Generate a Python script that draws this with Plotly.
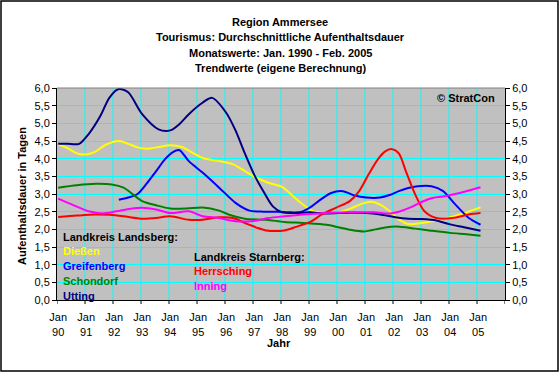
import plotly.graph_objects as go

# ---------------- data (month index: 0 = Jan 1990) ----------------
utting_m = [0, 4, 9, 13, 18, 22, 26, 30, 36, 43, 48, 52, 56, 62, 66, 72, 76, 80, 84, 88, 92, 96,
            102, 108, 114, 120, 126, 132, 138, 144, 150, 156, 162, 168, 174, 181]
utting_v = [4.42, 4.42, 4.42, 4.69, 5.20, 5.73, 5.97, 5.88, 5.26, 4.83, 4.80, 4.98, 5.26, 5.59,
            5.72, 5.30, 4.80, 4.15, 3.55, 3.07, 2.65, 2.48, 2.46, 2.48, 2.45, 2.46, 2.47, 2.46,
            2.42, 2.35, 2.30, 2.29, 2.25, 2.14, 2.06, 1.96]

diessen_m = [0, 4, 8, 12, 16, 20, 26, 30, 34, 38, 43, 48, 53, 58, 62, 69, 75, 80, 85, 90, 96,
             100, 104, 109, 115, 120, 125, 130, 134, 138, 142, 146, 150, 156, 162, 168, 174, 181]
diessen_v = [4.40, 4.30, 4.15, 4.12, 4.20, 4.38, 4.50, 4.42, 4.32, 4.28, 4.33, 4.38, 4.33, 4.15,
             4.02, 3.93, 3.84, 3.65, 3.46, 3.32, 3.20, 2.98, 2.75, 2.52, 2.46, 2.48, 2.58, 2.72,
             2.78, 2.70, 2.52, 2.28, 2.15, 2.18, 2.25, 2.34, 2.46, 2.62]

greifenberg_m = [26, 30, 34, 38, 42, 46, 49, 52, 56, 62, 69, 76, 82, 88, 94, 100, 104, 108, 112,
                 117, 122, 127, 132, 138, 142, 146, 150, 154, 160, 165, 170, 176, 181]
greifenberg_v = [2.84, 2.90, 3.00, 3.30, 3.65, 4.00, 4.18, 4.24, 3.93, 3.60, 3.18, 2.75, 2.53,
                 2.50, 2.50, 2.48, 2.49, 2.62, 2.82, 3.03, 3.08, 2.96, 2.90, 2.90, 2.97, 3.08,
                 3.17, 3.22, 3.22, 3.08, 2.72, 2.32, 2.13]

schondorf_m = [0, 8, 16, 23, 28, 32, 36, 42, 48, 55, 62, 69, 73, 80, 89, 97, 105, 115, 120, 125,
               131, 139, 145, 153, 159, 168, 175, 181]
schondorf_v = [3.18, 3.25, 3.29, 3.27, 3.18, 2.99, 2.80, 2.68, 2.59, 2.59, 2.62, 2.53, 2.42,
               2.30, 2.27, 2.21, 2.18, 2.13, 2.06, 1.99, 1.94, 2.04, 2.08, 2.02, 1.97, 1.90,
               1.86, 1.82]

herrsching_m = [0, 8, 16, 22, 28, 36, 42, 48, 56, 62, 69, 75, 80, 85, 89, 97, 102, 108, 113, 119,
                125, 129, 133, 137, 140, 143, 146, 149, 153, 157, 162, 169, 176, 181]
herrsching_v = [2.35, 2.39, 2.42, 2.41, 2.37, 2.30, 2.32, 2.37, 2.27, 2.27, 2.34, 2.32, 2.18,
                2.05, 1.97, 1.97, 2.07, 2.21, 2.42, 2.61, 2.80, 3.08, 3.55, 3.98, 4.20, 4.27,
                4.15, 3.65, 2.99, 2.51, 2.32, 2.32, 2.42, 2.46]

inning_m = [0, 6, 13, 19, 25, 31, 36, 42, 48, 56, 62, 69, 76, 83, 90, 97, 105, 115, 125, 135,
            142, 146, 151, 156, 160, 165, 170, 176, 181]
inning_v = [2.87, 2.70, 2.51, 2.45, 2.51, 2.58, 2.61, 2.56, 2.46, 2.51, 2.37, 2.32, 2.23, 2.23,
            2.32, 2.37, 2.42, 2.46, 2.48, 2.48, 2.45, 2.50, 2.62, 2.78, 2.88, 2.93, 3.00, 3.10,
            3.19]

year_labels = ["90", "91", "92", "93", "94", "95", "96", "97", "98", "99",
               "00", "01", "02", "03", "04", "05"]
y_ticks = [0, 0.5, 1, 1.5, 2, 2.5, 3, 3.5, 4, 4.5, 5, 5.5, 6]

title_lines = ["Region Ammersee",
               "Tourismus: Durchschnittliche Aufenthaltsdauer",
               "Monatswerte: Jan. 1990 - Feb. 2005",
               "Trendwerte (eigene Berechnung)"]

# ---------------- figure ----------------
W, H = 560, 374
L, R, T, B = 57, 55, 88, 74
PW, PH = W - L - R, H - T - B

def px(x):
    return (x - L) / PW

def py(y):
    return (H - B - y) / PH

FONT = "Arial, Liberation Sans, sans-serif"

fig = go.Figure()
series = [
    ("Dießen", diessen_m, diessen_v, "#FFFF00"),
    ("Greifenberg", greifenberg_m, greifenberg_v, "#0000FF"),
    ("Schondorf", schondorf_m, schondorf_v, "#008000"),
    ("Utting", utting_m, utting_v, "#000080"),
    ("Herrsching", herrsching_m, herrsching_v, "#FF0000"),
    ("Inning", inning_m, inning_v, "#FF00FF"),
]
for name, xm, yv, col in series:
    fig.add_trace(go.Scatter(x=xm, y=yv, name=name, mode="lines",
                             line=dict(color=col, width=2, shape="spline", smoothing=0.8),
                             hoverinfo="skip"))

# invisible helper trace so the right axis renders
fig.add_trace(go.Scatter(x=[0], y=[0], xaxis="x", yaxis="y2", mode="markers",
                         marker=dict(opacity=0), hoverinfo="skip", showlegend=False))

year_pos = [12 * i for i in range(len(year_labels))]
bounds = [12 * i - 0.5 for i in range(17)]
xr = [-0.5, 191.5]

fig.update_layout(
    width=W, height=H,
    margin=dict(l=L, r=R, t=T, b=B, autoexpand=False),
    paper_bgcolor="white",
    plot_bgcolor="#C0C0C0",
    showlegend=False,
    separators=",.",
    font=dict(family=FONT, size=11, color="black"),
    xaxis=dict(range=xr, tickmode="array", tickvals=year_pos,
               ticktext=["Jan<br>%s" % y for y in year_labels],
               ticks="", showgrid=False, ticklabelstandoff=7,
               showline=True, linecolor="black", linewidth=1, zeroline=False),
    yaxis=dict(range=[0, 6], tickmode="array", tickvals=y_ticks, tickformat=".1f",
               ticks="outside", ticklen=4, tickcolor="black",
               showgrid=True, gridcolor="#00FFFF", gridwidth=1,
               showline=True, linecolor="black", linewidth=1, zeroline=False),
    yaxis2=dict(range=[0, 6], overlaying="y", side="right", tickmode="array",
                tickvals=y_ticks, tickformat=".1f", anchor="x",
                ticks="outside", ticklen=4, tickcolor="black",
                showgrid=False, showline=True, linecolor="black", linewidth=1,
                zeroline=False),
)

# vertical year-boundary gridlines and bottom tick marks
for b in bounds[1:-1]:
    fig.add_shape(type="line", xref="x", yref="paper", x0=b, x1=b, y0=0, y1=1,
                  line=dict(color="#00FFFF", width=1), layer="below")
for b in bounds:
    fig.add_shape(type="line", xref="x", yref="paper", x0=b, x1=b, y0=0, y1=-4 / PH,
                  line=dict(color="black", width=1), layer="above")

ann = []
for i, t in enumerate(title_lines):
    ann.append(dict(text="<b>%s</b>" % t, x=px(280), y=py(22 + i * 15.4), xref="paper",
                    yref="paper", showarrow=False, xanchor="center", yanchor="middle",
                    font=dict(size=11)))
ann.append(dict(text="<b>Aufenthaltsdauer in Tagen</b>", x=px(22), y=py(196), xref="paper",
                yref="paper", showarrow=False, textangle=-90, xanchor="center",
                yanchor="middle", font=dict(size=11)))
ann.append(dict(text="<b>Jahr</b>", x=px(279), y=py(343), xref="paper", yref="paper",
                showarrow=False, xanchor="center", yanchor="middle", font=dict(size=11)))
ann.append(dict(text="<b>© StratCon</b>", x=px(497), y=py(98), xref="paper", yref="paper",
                showarrow=False, xanchor="right", yanchor="middle", font=dict(size=11)))
labels = [
    ("Landkreis Landsberg:", "black", 61, 236.5),
    ("Dießen", "#FFFF00", 61, 251),
    ("Greifenberg", "#0000FF", 61, 266),
    ("Schondorf", "#008000", 61, 280.5),
    ("Utting", "#000080", 61, 295.5),
    ("Landkreis Starnberg:", "black", 192, 256.5),
    ("Herrsching", "#FF0000", 192, 271),
    ("Inning", "#FF00FF", 192, 286),
]
for t, c, x, y in labels:
    ann.append(dict(text="<b>%s</b>" % t, x=px(x), y=py(y), xref="paper", yref="paper",
                    showarrow=False, xanchor="left", yanchor="middle",
                    font=dict(size=11, color=c)))
fig.update_layout(annotations=ann)

fig.add_shape(type="line", xref="paper", yref="paper", x0=0, x1=1, y0=1, y1=1,
              line=dict(color="#808080", width=1), layer="above")
fig.add_shape(type="rect", xref="paper", yref="paper",
              x0=px(1), x1=px(558), y0=py(1), y1=py(371),
              line=dict(color="black", width=1.5), layer="above")

fig.write_html("out.html", config={"displayModeBar": False},
               post_script="document.body.style.margin='0';document.body.style.overflow='hidden';")
